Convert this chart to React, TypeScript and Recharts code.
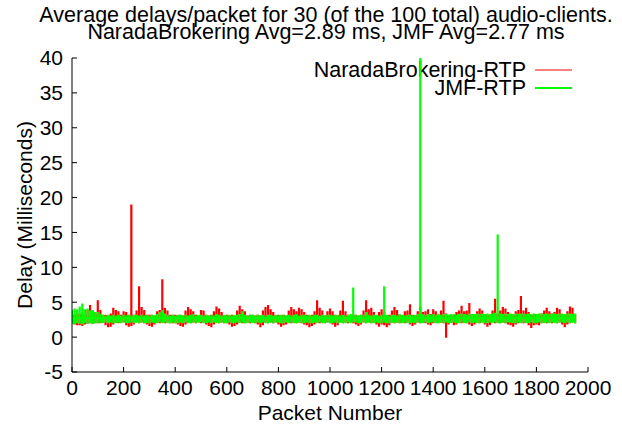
import React from 'react';
import { LineChart, Line, XAxis, YAxis, Customized } from 'recharts';

const FONT = '"Liberation Sans", Arial, Helvetica, sans-serif';

// Each value is the min / max delay read for one bin of BIN packets (bin start = index * BIN)
const BIN = 10;

// Averages quoted in the title
const naradaAvg = 2.89;
const jmfAvg = 2.77;

const naradaHigh = [
  3.3, 3.2, 3.5, 3.3, 3.4, 3.3, 3.9, 4.6, 3.8, 3.5,
  5.3, 3.9, 3.2, 3.2, 3.1, 3.4, 4.2, 3.9, 3.7, 3.2,
  3.7, 3.6, 3.2, 19.0, 3.2, 3.8, 7.3, 4.3, 3.9, 3.2,
  3.2, 3.2, 3.1, 3.7, 3.9, 8.3, 4.2, 3.8, 3.2, 3.2,
  3.2, 3.1, 3.2, 3.1, 3.8, 4.3, 4.0, 3.7, 3.2, 3.1,
  3.9, 3.8, 3.2, 3.1, 3.2, 3.7, 4.4, 4.1, 3.6, 3.1,
  3.2, 3.1, 3.2, 3.1, 3.8, 4.5, 4.0, 3.7, 3.1, 3.2,
  3.2, 3.1, 3.2, 3.1, 3.8, 4.3, 4.6, 4.0, 3.6, 3.1,
  3.2, 3.1, 3.2, 3.1, 3.8, 4.3, 4.0, 3.7, 4.2, 4.0,
  3.6, 3.2, 3.1, 3.2, 3.7, 5.3, 4.2, 3.8, 3.1, 3.7,
  4.1, 3.7, 3.2, 3.1, 3.8, 5.2, 3.7, 3.2, 3.1, 3.2,
  3.2, 3.1, 3.2, 3.8, 5.3, 4.0, 4.2, 3.6, 3.1, 3.6,
  4.0, 3.6, 3.1, 3.2, 3.8, 4.3, 3.9, 3.2, 3.1, 3.7,
  3.8, 4.7, 3.2, 3.1, 3.7, 4.3, 3.6, 3.7, 4.0, 3.3,
  4.0, 3.7, 3.1, 3.8, 5.2, 3.4, 3.2, 3.1, 3.2, 3.6,
  3.8, 4.5, 3.7, 3.8, 4.9, 3.2, 3.3, 3.7, 4.1, 3.8,
  3.3, 3.2, 3.3, 3.8, 5.5, 3.4, 3.8, 4.3, 4.1, 3.6,
  3.3, 3.2, 3.7, 3.9, 5.9, 3.8, 4.2, 3.6, 3.2, 3.3,
  3.3, 3.2, 3.4, 3.8, 4.2, 3.7, 3.4, 3.6, 4.2, 4.0,
  3.3, 3.2, 3.7, 4.4, 4.2, 3.3,
];

const naradaLow = [
  2.0, 1.8, 1.7, 1.7, 1.6, 1.8, 1.9, 2.0, 1.9, 2.0,
  2.0, 2.0, 2.1, 1.7, 1.4, 1.5, 1.8, 2.1, 2.0, 2.1,
  2.1, 1.7, 1.5, 1.6, 1.8, 2.1, 2.0, 2.1, 2.0, 1.8,
  1.6, 1.5, 1.8, 2.1, 2.0, 2.1, 2.0, 2.1, 2.0, 2.0,
  2.0, 1.8, 1.6, 1.5, 1.8, 2.1, 2.0, 2.1, 2.0, 2.1,
  2.0, 2.1, 1.8, 1.6, 1.4, 1.8, 2.1, 2.0, 2.1, 2.0,
  2.0, 1.8, 1.5, 1.6, 1.8, 2.1, 2.0, 2.0, 2.1, 2.0,
  2.1, 2.0, 1.8, 1.4, 1.7, 2.1, 2.0, 2.1, 2.0, 2.1,
  1.8, 1.5, 1.7, 1.8, 2.1, 2.0, 2.1, 2.0, 2.1, 2.0,
  1.8, 1.7, 1.4, 1.6, 1.8, 2.1, 2.0, 2.1, 2.0, 2.1,
  2.0, 1.8, 1.5, 1.7, 2.1, 2.0, 2.1, 2.0, 2.1, 2.0,
  1.8, 1.6, 1.8, 2.1, 2.0, 2.1, 2.0, 2.1, 1.8, 1.5,
  1.8, 1.7, 1.4, 1.7, 2.1, 2.0, 2.1, 2.0, 2.1, 2.0,
  2.1, 1.8, 1.6, 1.8, 2.1, 2.0, 2.1, 2.0, 1.8, 1.7,
  2.0, 2.1, 2.0, 2.1, 2.0, -0.1, 1.8, 2.1, 1.7, 1.8,
  2.1, 2.0, 2.1, 2.0, 1.8, 1.6, 1.8, 2.1, 2.0, 2.1,
  1.8, 1.5, 1.7, 2.1, 2.0, 2.1, 2.0, 2.1, 2.0, 1.8,
  1.7, 1.5, 1.8, 2.0, 2.1, 2.0, 2.1, 1.7, 1.3, 1.7,
  1.8, 1.7, 2.0, 2.1, 2.0, 2.1, 2.0, 2.1, 2.0, 2.1,
  1.8, 1.4, 1.8, 2.0, 2.1, 2.0,
];

const jmfHigh = [
  3.9, 4.1, 4.0, 4.4, 4.8, 4.0, 4.1, 3.8, 3.9, 3.6,
  3.6, 3.3, 3.2, 3.1, 3.2, 3.1, 3.2, 3.1, 3.2, 3.1,
  3.2, 3.1, 3.2, 3.1, 3.2, 3.2, 3.1, 3.2, 3.1, 3.2,
  3.1, 3.2, 3.1, 3.3, 3.6, 3.9, 3.4, 3.2, 3.1, 3.2,
  3.1, 3.2, 3.2, 3.1, 3.2, 3.1, 3.2, 3.3, 3.1, 3.2,
  3.2, 3.1, 3.2, 3.1, 3.2, 3.1, 3.3, 3.2, 3.1, 3.2,
  3.1, 3.2, 3.1, 3.2, 3.2, 3.3, 3.7, 3.2, 3.1, 3.2,
  3.2, 3.1, 3.2, 3.1, 3.2, 3.1, 3.2, 3.2, 3.1, 3.2,
  3.1, 3.2, 3.2, 3.1, 3.2, 3.1, 3.2, 3.3, 3.1, 3.2,
  3.2, 3.1, 3.2, 3.1, 3.2, 3.2, 3.1, 3.2, 3.1, 3.2,
  3.2, 3.1, 3.2, 3.2, 3.1, 3.2, 3.1, 3.2, 3.3, 7.1,
  3.2, 3.1, 3.2, 3.2, 3.6, 3.2, 3.1, 3.2, 3.2, 3.1,
  3.2, 7.3, 3.2, 3.1, 3.2, 3.2, 3.1, 3.3, 3.2, 3.1,
  3.2, 3.2, 3.1, 3.2, 3.3, 45.0, 3.3, 3.2, 3.3, 3.2,
  3.3, 3.2, 3.3, 3.2, 3.3, 3.3, 3.2, 3.3, 3.3, 3.2,
  3.3, 3.4, 3.3, 3.2, 3.4, 3.3, 3.3, 3.4, 3.3, 3.4,
  3.3, 3.4, 3.3, 3.4, 3.5, 14.7, 3.4, 3.3, 3.4, 3.3,
  3.4, 3.3, 3.4, 3.3, 3.4, 3.4, 3.3, 3.4, 3.3, 3.4,
  3.3, 3.4, 3.4, 3.3, 3.4, 3.3, 3.4, 3.4, 3.3, 3.4,
  3.4, 3.3, 3.4, 3.4, 3.3, 3.4,
];

const jmfLow = [
  1.9, 1.8, 2.0, 1.9, 1.8, 2.0, 1.9, 2.0, 1.9, 2.0,
  2.0, 2.1, 2.0, 2.1, 2.0, 2.1, 2.0, 2.0, 2.1, 2.0,
  2.1, 2.0, 2.0, 2.1, 2.0, 2.1, 2.0, 2.1, 2.0, 2.0,
  2.0, 2.1, 2.0, 2.0, 2.1, 2.0, 2.1, 2.0, 2.0, 2.1,
  2.0, 2.0, 2.1, 2.0, 2.1, 2.0, 2.0, 2.1, 2.0, 2.1,
  2.1, 2.0, 2.0, 2.1, 2.0, 2.1, 2.0, 2.0, 2.1, 2.0,
  2.0, 2.1, 2.0, 2.0, 2.1, 2.0, 2.1, 2.0, 2.0, 2.1,
  2.0, 2.0, 2.1, 2.0, 2.1, 2.0, 2.0, 2.1, 2.0, 2.1,
  2.1, 2.0, 2.0, 2.1, 2.0, 2.1, 2.0, 2.0, 2.1, 2.0,
  2.0, 2.1, 2.0, 2.0, 2.1, 2.0, 2.1, 2.0, 2.0, 2.1,
  2.0, 2.0, 2.1, 2.0, 2.1, 2.0, 2.0, 2.1, 2.0, 2.1,
  2.1, 2.0, 2.0, 2.1, 2.0, 2.1, 2.0, 2.0, 2.1, 2.0,
  2.0, 2.1, 2.0, 2.0, 2.1, 2.0, 2.1, 2.0, 2.0, 2.1,
  2.0, 2.0, 2.1, 2.0, 2.1, 2.0, 2.0, 2.1, 2.0, 2.1,
  2.1, 2.0, 2.0, 2.1, 2.0, 2.1, 2.0, 2.0, 2.1, 2.0,
  2.0, 2.1, 2.0, 2.0, 2.1, 2.0, 2.1, 2.0, 2.0, 2.1,
  2.0, 2.0, 2.1, 2.0, 2.1, 2.0, 2.0, 2.1, 2.0, 2.1,
  2.1, 2.0, 2.0, 2.1, 2.0, 2.1, 2.0, 2.0, 2.1, 2.0,
  2.0, 2.1, 2.0, 2.0, 2.1, 2.0, 2.1, 2.0, 2.0, 2.1,
  2.1, 2.0, 2.1, 2.0, 2.1, 2.0,
];

const xTicks = [0, 200, 400, 600, 800, 1000, 1200, 1400, 1600, 1800, 2000];
const yTicks = [-5, 0, 5, 10, 15, 20, 25, 30, 35, 40];
const titleLines = [
  'Average delays/packet for 30 (of the 100 total) audio-clients.',
  `NaradaBrokering Avg=${naradaAvg} ms, JMF Avg=${jmfAvg} ms`,
];
const seriesNames = ['NaradaBrokering-RTP', 'JMF-RTP'];
const seriesColors = ['#ff0000', '#00ff00'];
const xLabel = 'Packet Number';
const yLabel = 'Delay (Milliseconds)';

// Each bin is traced avg -> max -> min -> avg at its packet position, so the
// per-bin envelope is drawn as a vertical stroke (like the dense raw trace),
// and consecutive bins are joined at the series average.
const buildTrace = (low: number[], high: number[], avg: number) => {
  const pts: { packet: number; delay: number }[] = [];
  low.forEach((lo, i) => {
    const packet = i * BIN;
    pts.push({ packet, delay: avg });
    pts.push({ packet, delay: high[i] });
    pts.push({ packet, delay: lo });
    pts.push({ packet, delay: avg });
  });
  return pts;
};

const naradaTrace = buildTrace(naradaLow, naradaHigh, naradaAvg);
const jmfTrace = buildTrace(jmfLow, jmfHigh, jmfAvg);

const Overlay = () => (
  <g fontFamily={FONT} fill="#000">
    <text x={326} y={22} textAnchor="middle" fontSize={21.5}>{titleLines[0]}</text>
    <text x={326} y={39} textAnchor="middle" fontSize={21.5}>{titleLines[1]}</text>
    <text x={330} y={420} textAnchor="middle" fontSize={21}>{xLabel}</text>
    <text transform="translate(32,215) rotate(-90)" textAnchor="middle" fontSize={21}>{yLabel}</text>
    <text x={526} y={77} textAnchor="end" fontSize={21.5}>{seriesNames[0]}</text>
    <line x1={535} x2={572} y1={70} y2={70} stroke={seriesColors[0]} strokeWidth={1} />
    <text x={526} y={95} textAnchor="end" fontSize={21.5}>{seriesNames[1]}</text>
    <line x1={535} x2={572} y1={88} y2={88} stroke={seriesColors[1]} strokeWidth={2} />
  </g>
);

const tickStyle = { fill: '#000', fontSize: 21, fontFamily: FONT };

export default function App() {
  return (
    <div style={{ position: 'absolute', left: 0, top: 0, background: '#fff' }}>
      <LineChart width={622} height={428} margin={{ top: 58, right: 34, bottom: 0, left: 0 }}>
        <XAxis
          dataKey="packet"
          type="number"
          domain={[0, 2000]}
          ticks={xTicks}
          interval={0}
          height={56}
          tickSize={-5}
          tickMargin={13}
          tick={tickStyle}
          axisLine={{ stroke: '#000' }}
          tickLine={{ stroke: '#000' }}
          allowDataOverflow
        />
        <XAxis
          xAxisId="top"
          orientation="top"
          type="number"
          domain={[0, 2000]}
          ticks={xTicks}
          interval={0}
          height={0}
          tickSize={-5}
          tick={false}
          axisLine={{ stroke: '#000' }}
          tickLine={{ stroke: '#000' }}
        />
        <YAxis
          type="number"
          domain={[-5, 40]}
          ticks={yTicks}
          interval={0}
          width={72}
          tickSize={-5}
          tickMargin={14}
          tick={tickStyle}
          axisLine={{ stroke: '#000' }}
          tickLine={{ stroke: '#000' }}
          allowDataOverflow
        />
        <YAxis
          yAxisId="right"
          orientation="right"
          type="number"
          domain={[-5, 40]}
          ticks={yTicks}
          interval={0}
          width={0}
          tickSize={-5}
          tick={false}
          axisLine={{ stroke: '#000' }}
          tickLine={{ stroke: '#000' }}
        />
        <Line data={naradaTrace} dataKey="delay" name={seriesNames[0]} type="linear" stroke={seriesColors[0]} strokeWidth={2.2} strokeLinejoin="miter" dot={false} isAnimationActive={false} />
        <Line data={jmfTrace} dataKey="delay" name={seriesNames[1]} type="linear" stroke={seriesColors[1]} strokeWidth={2.2} strokeLinejoin="miter" dot={false} isAnimationActive={false} />
        <Customized component={Overlay} />
      </LineChart>
    </div>
  );
}
